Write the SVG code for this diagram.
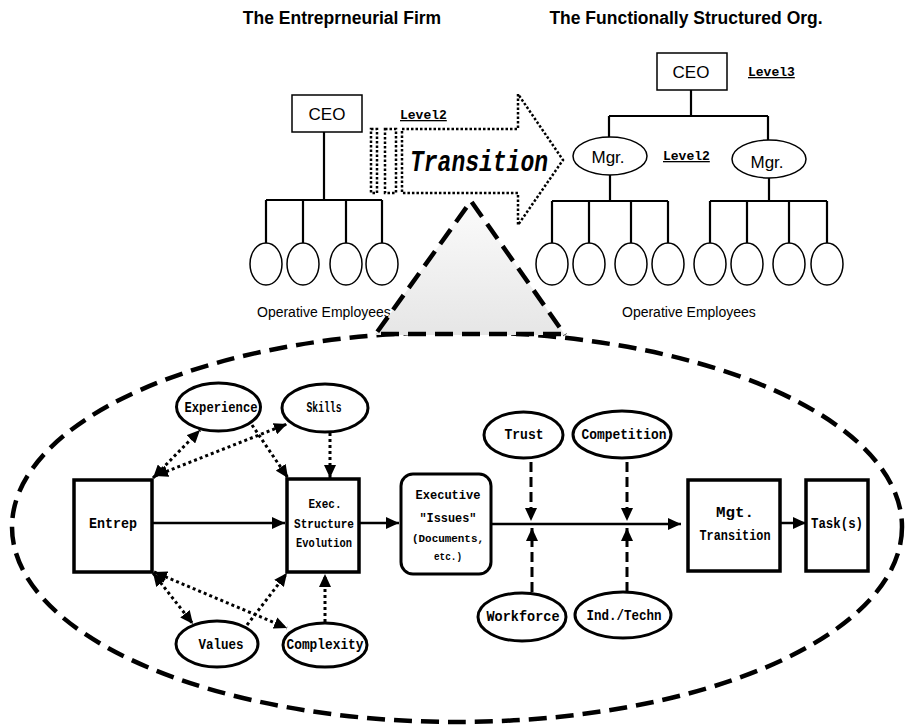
<svg xmlns="http://www.w3.org/2000/svg" width="905" height="726" viewBox="0 0 905 726">
<style>
.title{font-family:"Liberation Sans",Arial,sans-serif;font-weight:bold;font-size:17.5px;fill:#000}
.sans{font-family:"Liberation Sans",Arial,sans-serif;fill:#000}
.mono{font-family:"Liberation Mono","Courier New",monospace;font-weight:bold;fill:#000}
.lvl{font-family:"Liberation Mono","Courier New",monospace;font-weight:bold;font-size:13px;text-decoration:underline;fill:#000}
.org{fill:none;stroke:#000;stroke-width:2.2}
.emp{fill:#fff;stroke:#000;stroke-width:1.5}
.box{fill:#fff;stroke:#000;stroke-width:3.5}
.oval{fill:#fff;stroke:#000;stroke-width:3}
.solid{fill:none;stroke:#000;stroke-width:2.5}
.dot{fill:none;stroke:#000;stroke-width:3;stroke-dasharray:3 3}
.dash{fill:none;stroke:#000;stroke-width:3;stroke-dasharray:10 5}
.big{fill:none;stroke:#000;stroke-width:4.5;stroke-dasharray:18 9}
</style>
<defs>
<marker id="ah" markerUnits="userSpaceOnUse" markerWidth="13" markerHeight="12" refX="13" refY="6" orient="auto-start-reverse" viewBox="0 0 13 12">
<path d="M0,0 L13,6 L0,12 z" fill="#000"/>
</marker>
<linearGradient id="tri" x1="0" y1="0" x2="0" y2="1">
<stop offset="0" stop-color="#fbfbfb"/>
<stop offset="1" stop-color="#e6e6e6"/>
</linearGradient>
</defs>
<rect width="905" height="726" fill="#fff"/>

<!-- titles -->
<text class="title" x="342" y="24" text-anchor="middle">The Entreprneurial Firm</text>
<text class="title" x="686" y="24" text-anchor="middle">The Functionally Structured Org.</text>

<!-- big dashed ellipse -->
<ellipse class="big" cx="457" cy="527" rx="445" ry="195"/>

<!-- left org chart -->
<g id="left-org">
<rect x="292" y="95" width="70" height="37" fill="#fff" stroke="#000" stroke-width="1.5"/>
<text class="sans" x="327" y="120" font-size="17" text-anchor="middle">CEO</text>
<path class="org" d="M324,132 V200" stroke-width="3"/>
<path class="org" d="M266,200 H382 M266,200 V243 M303,200 V243 M346,200 V243 M382,200 V243"/>
<ellipse class="emp" cx="266" cy="264" rx="16" ry="21"/>
<ellipse class="emp" cx="303" cy="264" rx="16" ry="21"/>
<ellipse class="emp" cx="346" cy="264" rx="16" ry="21"/>
<ellipse class="emp" cx="382" cy="264" rx="16" ry="21"/>
<text class="sans" x="257" y="317" font-size="14">Operative Employees</text>
</g>

<!-- right org chart -->
<g id="right-org">
<rect x="657" y="53" width="70" height="37" fill="#fff" stroke="#000" stroke-width="1.5"/>
<text class="sans" x="691" y="78" font-size="17" text-anchor="middle">CEO</text>
<text class="lvl" x="748" y="76">Level3</text>
<path class="org" d="M691,90 V116" stroke-width="3"/>
<path class="org" d="M609,116 H768 M609,116 V137 M768,116 V140"/>
<ellipse class="emp" cx="610" cy="156" rx="37" ry="19"/>
<text class="sans" x="608" y="163" font-size="17" text-anchor="middle">Mgr.</text>
<ellipse class="emp" cx="769" cy="159" rx="37" ry="19"/>
<text class="sans" x="767" y="168" font-size="17" text-anchor="middle">Mgr.</text>
<text class="lvl" x="663" y="160">Level2</text>
<path class="org" d="M610,175 V201 M552,201 H668 M552,201 V243 M589,201 V243 M631,201 V243 M668,201 V243"/>
<path class="org" d="M769,178 V201 M710,201 H827 M710,201 V243 M747,201 V243 M789,201 V243 M827,201 V243"/>
<ellipse class="emp" cx="552" cy="264" rx="16" ry="21"/>
<ellipse class="emp" cx="589" cy="264" rx="16" ry="21"/>
<ellipse class="emp" cx="631" cy="264" rx="16" ry="21"/>
<ellipse class="emp" cx="668" cy="264" rx="16" ry="21"/>
<ellipse class="emp" cx="710" cy="264" rx="16" ry="21"/>
<ellipse class="emp" cx="747" cy="264" rx="16" ry="21"/>
<ellipse class="emp" cx="789" cy="264" rx="16" ry="21"/>
<ellipse class="emp" cx="827" cy="264" rx="16" ry="21"/>
<text class="sans" x="622" y="317" font-size="14">Operative Employees</text>
</g>

<!-- transition arrow -->
<g id="transition">
<g fill="none" stroke="#000" stroke-width="2.5" stroke-dasharray="2.5 2">
<rect x="371" y="129" width="6" height="64"/>
<rect x="385" y="129" width="11" height="64"/>
<path d="M402,129 L518,129 L518,94 L563,160 L518,225 L518,193 L402,193 Z"/>
</g>
<text class="mono" x="410" y="171" font-size="29" font-style="italic" textLength="138" lengthAdjust="spacingAndGlyphs">Transition</text>
<text class="lvl" x="400" y="119">Level2</text>
</g>

<!-- zoom triangle -->
<g id="zoom-triangle">
<path d="M471,201 L565,335 L375,335 Z" fill="url(#tri)"/>
<path d="M375,335 L471,201 L565,335" fill="none" stroke="#000" stroke-width="4.5" stroke-dasharray="18 9" stroke-dashoffset="-4" stroke-linejoin="miter"/>
<path d="M375,334 H565" fill="none" stroke="#000" stroke-width="4.5" stroke-dasharray="18 9" stroke-dashoffset="-6"/>
</g>

<!-- connectors -->
<g id="connectors">
<path class="solid" d="M152,523 H285" marker-end="url(#ah)"/>
<path class="solid" d="M359,523 H399" marker-end="url(#ah)"/>
<path class="solid" d="M491,524 H681" marker-end="url(#ah)"/>
<path class="solid" d="M780,523 H806" marker-end="url(#ah)"/>
<path class="dot" d="M153,478 L200,430" marker-start="url(#ah)" marker-end="url(#ah)"/>
<path class="dot" d="M155,476 L287,424" marker-start="url(#ah)" marker-end="url(#ah)"/>
<path class="dot" d="M252,425 L288,478" marker-end="url(#ah)"/>
<path class="dot" d="M330,433 V478" marker-end="url(#ah)"/>
<path class="dot" d="M153,573 L193,624" marker-start="url(#ah)" marker-end="url(#ah)"/>
<path class="dot" d="M154,572 L287,628" marker-start="url(#ah)" marker-end="url(#ah)"/>
<path class="dot" d="M247,625 L287,573" marker-end="url(#ah)"/>
<path class="dot" d="M325,622 V574" marker-end="url(#ah)"/>
<path class="dash" d="M531,462 V521" marker-end="url(#ah)"/>
<path class="dash" d="M627,462 V521" marker-end="url(#ah)"/>
<path class="dash" d="M532,592 V528" marker-end="url(#ah)"/>
<path class="dash" d="M627,592 V528" marker-end="url(#ah)"/>
</g>

<!-- nodes -->
<g id="entrep">
<rect class="box" x="74" y="480" width="78" height="92"/>
<text class="mono" x="113" y="528" font-size="14" text-anchor="middle" textLength="48" lengthAdjust="spacingAndGlyphs">Entrep</text>
</g>
<g id="exec-structure">
<rect class="box" x="287" y="479" width="72" height="93"/>
<text class="mono" x="325" y="508" font-size="13" text-anchor="middle" textLength="33" lengthAdjust="spacingAndGlyphs">Exec.</text>
<text class="mono" x="324" y="528" font-size="13" text-anchor="middle" textLength="60" lengthAdjust="spacingAndGlyphs">Structure</text>
<text class="mono" x="324" y="547" font-size="13" text-anchor="middle" textLength="56" lengthAdjust="spacingAndGlyphs">Evolution</text>
</g>
<g id="experience">
<ellipse class="oval" cx="218.5" cy="407" rx="42" ry="24"/>
<text class="mono" x="221" y="412" font-size="14" text-anchor="middle" textLength="73" lengthAdjust="spacingAndGlyphs">Experience</text>
</g>
<g id="skills">
<ellipse class="oval" cx="325" cy="408" rx="43" ry="24"/>
<text class="mono" x="324" y="412" font-size="14" text-anchor="middle" textLength="35" lengthAdjust="spacingAndGlyphs">Skills</text>
</g>
<g id="values">
<ellipse class="oval" cx="217" cy="644" rx="41" ry="23"/>
<text class="mono" x="221" y="649" font-size="14" text-anchor="middle" textLength="45" lengthAdjust="spacingAndGlyphs">Values</text>
</g>
<g id="complexity">
<ellipse class="oval" cx="325" cy="645" rx="42" ry="22"/>
<text class="mono" x="325" y="649" font-size="14" text-anchor="middle" textLength="77" lengthAdjust="spacingAndGlyphs">Complexity</text>
</g>
<g id="executive-issues">
<rect x="401" y="474" width="90" height="100" rx="12" ry="12" fill="#fff" stroke="#000" stroke-width="3"/>
<text class="mono" x="448" y="499" font-size="13" text-anchor="middle" textLength="65" lengthAdjust="spacingAndGlyphs">Executive</text>
<text class="mono" x="448" y="522" font-size="13" text-anchor="middle" textLength="57" lengthAdjust="spacingAndGlyphs">"Issues"</text>
<text class="mono" x="448" y="542" font-size="10" text-anchor="middle" textLength="72" lengthAdjust="spacingAndGlyphs">(Documents,</text>
<text class="mono" x="448" y="560" font-size="10" text-anchor="middle" textLength="28" lengthAdjust="spacingAndGlyphs">etc.)</text>
</g>
<g id="trust">
<ellipse class="oval" cx="523.5" cy="435" rx="39.5" ry="23"/>
<text class="mono" x="524" y="439" font-size="14" text-anchor="middle" textLength="39" lengthAdjust="spacingAndGlyphs">Trust</text>
</g>
<g id="competition">
<ellipse class="oval" cx="622" cy="434.5" rx="49" ry="23.5"/>
<text class="mono" x="624" y="439" font-size="14" text-anchor="middle" textLength="85" lengthAdjust="spacingAndGlyphs">Competition</text>
</g>
<g id="workforce">
<ellipse class="oval" cx="522" cy="617" rx="44" ry="24"/>
<text class="mono" x="523" y="621" font-size="14" text-anchor="middle" textLength="73" lengthAdjust="spacingAndGlyphs">Workforce</text>
</g>
<g id="ind-techn">
<ellipse class="oval" cx="623" cy="615" rx="48" ry="23"/>
<text class="mono" x="624" y="620" font-size="14" text-anchor="middle" textLength="75" lengthAdjust="spacingAndGlyphs">Ind./Techn</text>
</g>
<g id="mgt-transition">
<rect class="box" x="688" y="480" width="92" height="91"/>
<text class="mono" x="735" y="517" font-size="14" text-anchor="middle" textLength="38" lengthAdjust="spacingAndGlyphs">Mgt.</text>
<text class="mono" x="735" y="540" font-size="14" text-anchor="middle" textLength="71" lengthAdjust="spacingAndGlyphs">Transition</text>
</g>
<g id="tasks">
<rect class="box" x="806" y="480" width="62" height="91"/>
<text class="mono" x="837" y="528" font-size="14" text-anchor="middle" textLength="52" lengthAdjust="spacingAndGlyphs">Task(s)</text>
</g>
</svg>
